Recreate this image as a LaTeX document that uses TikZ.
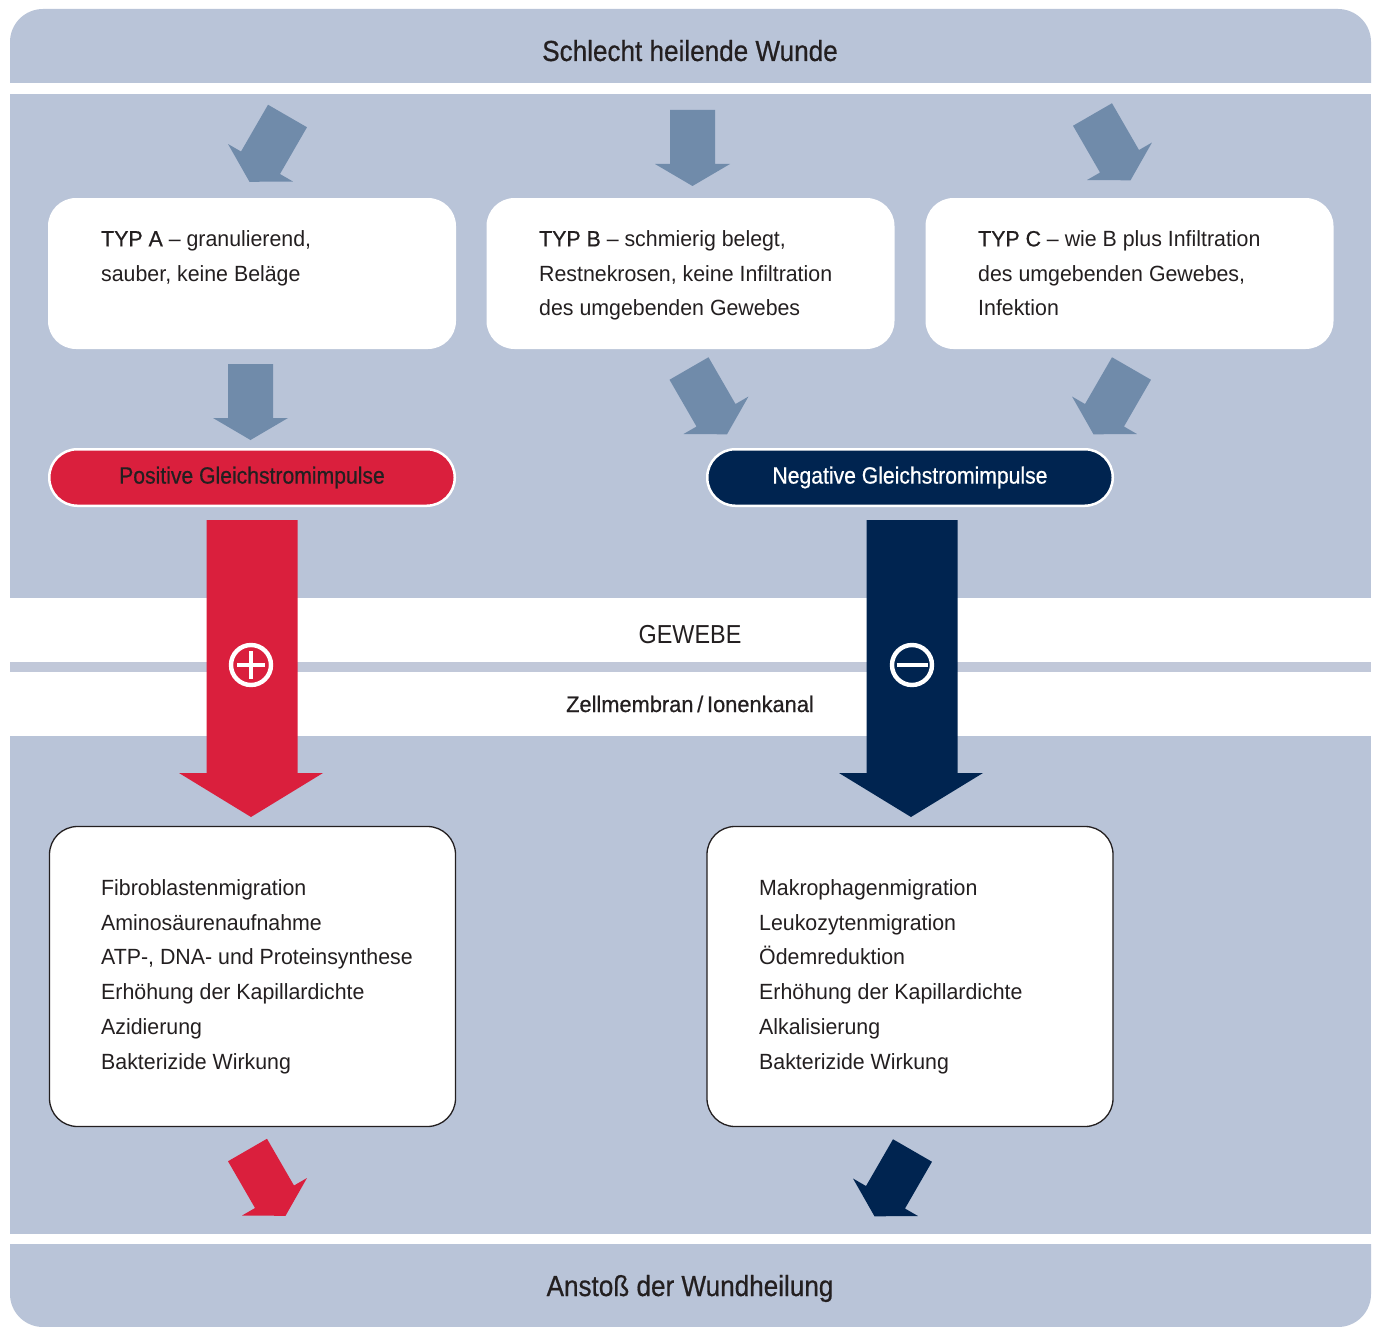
\documentclass[tikz,border=0pt]{standalone}
\usepackage{fontspec}
\setmainfont{Liberation Sans}[FakeStretch=0.97]
\newfontfamily\condfont{Liberation Sans}[FakeStretch=0.9]
\newfontfamily\medfont{Liberation Sans}[FakeStretch=0.9,FakeBold=0.6]
\newfontfamily\medbody{Liberation Sans}[FakeStretch=0.97,FakeBold=0.6]
\definecolor{bgblue}{RGB}{185,196,216}
\definecolor{bandblue}{RGB}{193,200,217}
\definecolor{steel}{RGB}{112,139,170}
\definecolor{posred}{RGB}{218,31,61}
\definecolor{navy}{RGB}{0,36,80}
\definecolor{txt}{RGB}{35,31,32}
\tikzset{
  blk/.pic={\path[pic actions] (-22.5,0) -- (22.5,0) -- (22.5,54) -- (37.5,54) -- (0,76) -- (-37.5,54) -- (-22.5,54) -- cycle;},
  topbox/.style={rectangle, fill=white, rounded corners=28pt, minimum width=408pt, minimum height=151pt, inner sep=0pt},
  botbox/.style={rectangle, fill=white, draw=txt, line width=1.3pt, rounded corners=28pt, minimum width=406pt, minimum height=300pt, inner sep=0pt},
  pill/.style={rectangle, draw=white, line width=2.5pt, rounded corners=28pt, minimum width=405.5pt, minimum height=56.5pt, inner sep=0pt, font=\medfont\fontsize{23.5}{28}\selectfont},
  bodytext/.style={anchor=north west, inner sep=0pt, align=left, text=txt, font=\fontsize{22}{34.8}\selectfont},
  title/.style={anchor=base, inner sep=0pt, text=txt},
  sign/.style={white, line width=4.4pt}
}
\begin{document}
\begin{tikzpicture}[x=1pt,y=-1pt]
\useasboundingbox (0,0) rectangle (1374,1327);
\fill[white] (0,0) rectangle (1374,1327);
% background bands
\fill[bgblue] (10,83) -- (10,42) arc[start angle=180,end angle=90,radius=33pt] -- (1338,9) arc[start angle=90,end angle=0,radius=33pt] -- (1371,83) -- cycle;
\fill[bgblue] (10,94) rectangle (1371,598);
\fill[bandblue] (10,662) rectangle (1371,672);
\fill[bgblue] (10,736) rectangle (1371,1234);
\fill[bgblue] (10,1244) -- (1371,1244) -- (1371,1294) arc[start angle=0,end angle=-90,radius=33pt] -- (43,1327) arc[start angle=270,end angle=180,radius=33pt] -- cycle;

% titles
\node[title, font=\medfont\fontsize{29}{34}\selectfont] (head) at (690,61) {Schlecht heilende Wunde};
\node[title, font=\condfont\fontsize{26}{30}\selectfont] (gewebe) at (690,643) {GEWEBE};
\node[title, font=\medbody\fontsize{22.5}{26}\selectfont] (zell) at (690,712) {Zellmembran\,/\,Ionenkanal};
\node[title, font=\medfont\fontsize{29}{34}\selectfont] (foot) at (690,1296) {Anstoß der Wundheilung};

% small arrows, top row
\pic[fill=steel, rotate=-30] (arrA) at (287.5,116) {blk};
\pic[fill=steel] (arrB) at (692.5,110) {blk};
\pic[fill=steel, rotate=30] (arrC) at (1092.5,114.5) {blk};

% type boxes
\node[topbox] (boxA) at (252,273.5) {};
\node[topbox] (boxB) at (690.5,273.5) {};
\node[topbox] (boxC) at (1129.5,273.5) {};
\node[bodytext] (txtA) at (101,230.2) {{\medbody TYP A} -- granulierend,\\sauber, keine Beläge};
\node[bodytext] (txtB) at (539,230.2) {{\medbody TYP B} -- schmierig belegt,\\Restnekrosen, keine Infiltration\\des umgebenden Gewebes};
\node[bodytext] (txtC) at (978,230.2) {{\medbody TYP C} -- wie B plus Infiltration\\des umgebenden Gewebes,\\Infektion};

% small arrows, second row
\pic[fill=steel] (arrAP) at (250.5,364) {blk};
\pic[fill=steel, rotate=30] (arrBN) at (689,368.5) {blk};
\pic[fill=steel, rotate=-30] (arrCN) at (1131.5,368.5) {blk};

% pills
\node[pill, fill=posred, text=txt] (pos) at (252,477.5) {Positive Gleichstromimpulse};
\node[pill, fill=navy, text=white] (neg) at (910,477.5) {Negative Gleichstromimpulse};

% big arrows
\fill[posred] (206.5,520) -- (297.5,520) -- (297.5,773) -- (323,773) -- (251,817) -- (179,773) -- (206.5,773) -- cycle;
\fill[navy] (866.5,520) -- (957.5,520) -- (957.5,773) -- (983,773) -- (911,817) -- (839,773) -- (866.5,773) -- cycle;

% signs
\draw[sign] (251,665) circle[radius=20pt];
\draw[sign] (237.2,665) -- (264.8,665) (251,651.2) -- (251,678.8);
\draw[sign] (912,665) circle[radius=20pt];
\draw[sign] (896.5,665) -- (927.5,665);

% effect boxes
\node[botbox] (effP) at (252.5,976.5) {};
\node[botbox] (effN) at (910,976.5) {};
\node[bodytext] (txtP) at (101,879.2) {Fibroblastenmigration\\Aminosäurenaufnahme\\ATP-, DNA- und Proteinsynthese\\Erhöhung der Kapillardichte\\Azidierung\\Bakterizide Wirkung};
\node[bodytext] (txtN) at (759,879.2) {Makrophagenmigration\\Leukozytenmigration\\Ödemreduktion\\Erhöhung der Kapillardichte\\Alkalisierung\\Bakterizide Wirkung};

% bottom arrows
\pic[fill=posred, rotate=30] (arrP) at (247.5,1150) {blk};
\pic[fill=navy, rotate=-30] (arrN) at (912.5,1150.5) {blk};
\end{tikzpicture}
\end{document}
